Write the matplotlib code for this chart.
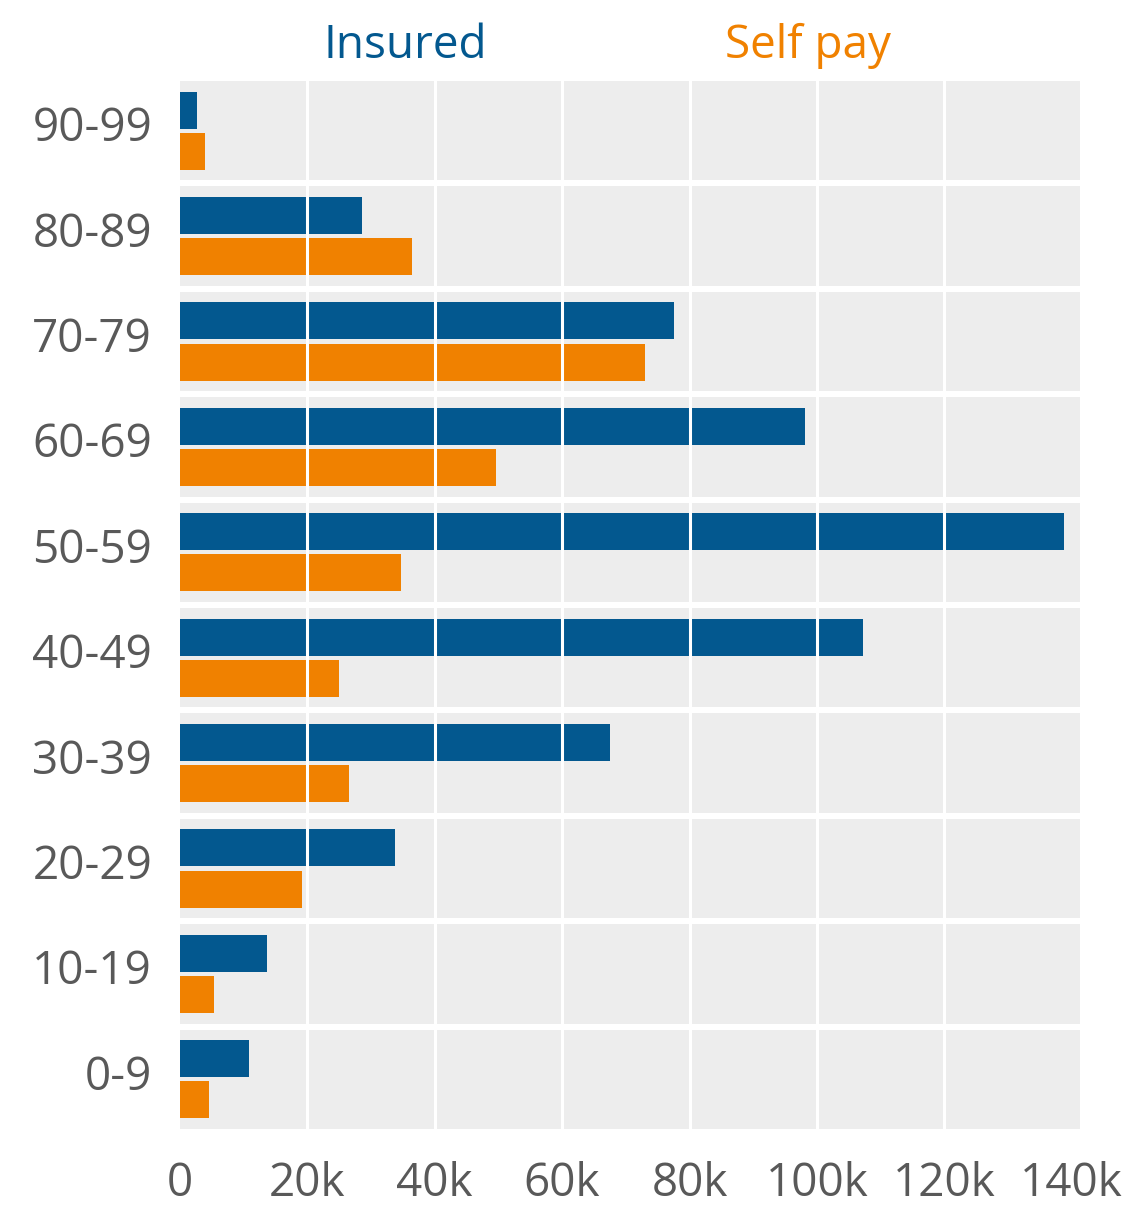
import matplotlib.pyplot as plt
import matplotlib.transforms as mtransforms
from matplotlib.ticker import FuncFormatter

age_groups = ['0-9', '10-19', '20-29', '30-39', '40-49',
              '50-59', '60-69', '70-79', '80-89', '90-99']
insured = [10.8, 13.7, 33.8, 67.5, 107.2, 138.8, 98.1, 77.6, 28.6, 2.7]
self_pay = [4.6, 5.3, 19.2, 26.5, 25.0, 34.7, 49.6, 73.0, 36.4, 3.9]
x_ticks = [0, 20, 40, 60, 80, 100, 120, 140]

BLUE = '#03588f'
ORANGE = '#f08100'
PANEL = '#ededed'
TEXT = '#595959'

plt.rcParams['font.family'] = ['Open Sans', 'DejaVu Sans']

fig = plt.figure(figsize=(11.32, 12.05), dpi=100)
ax = fig.add_axes([180 / 1132, 1 - 1132 / 1205, 900 / 1132, 1054 / 1205])

rows = range(len(age_groups))
bar_h = 0.352
offset = 0.195

# grey band behind each age group
for i in rows:
    ax.axhspan(i - 0.471, i + 0.471, xmin=0, xmax=1, color=PANEL, lw=0, zorder=0)

ax.barh([i + offset for i in rows], insured, height=bar_h, color=BLUE, zorder=2)
ax.barh([i - offset for i in rows], self_pay, height=bar_h, color=ORANGE, zorder=2)

# white grid lines sit on top of the bars
for t in x_ticks[1:-1]:
    ax.axvline(t, color='white', lw=2.2, zorder=3)

ax.set_xlim(0, 141.3)
ax.set_ylim(-0.5, len(age_groups) - 0.5)
ax.set_xticks(x_ticks)
ax.xaxis.set_major_formatter(FuncFormatter(lambda v, p: '0' if v == 0 else f'{int(v)}k'))
ax.set_yticks(list(rows))
ax.set_yticklabels(age_groups)
ax.tick_params(axis='x', length=0, pad=21, labelsize=33, labelcolor=TEXT)
ax.tick_params(axis='y', length=0, pad=20, labelsize=33, labelcolor=TEXT)

# nudge the age labels up a little
shift = mtransforms.ScaledTranslation(0, 5 / 72, fig.dpi_scale_trans)
for lbl in ax.get_yticklabels():
    lbl.set_transform(lbl.get_transform() + shift)
for s in ax.spines.values():
    s.set_visible(False)

fig.text(405 / 1132, 1 - 46 / 1205, 'Insured', color=BLUE, fontsize=33,
         ha='center', va='center')
fig.text(808 / 1132, 1 - 46 / 1205, 'Self pay', color=ORANGE, fontsize=33,
         ha='center', va='center')

fig.savefig('out.png', dpi=100, facecolor='white')
